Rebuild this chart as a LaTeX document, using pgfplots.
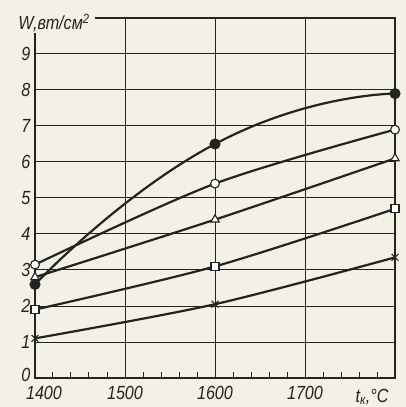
\documentclass[border=0pt]{standalone}
\usepackage{fontspec}
\setmainfont{Liberation Sans}
\newfontfamily\lbl[FakeStretch=0.85]{Liberation Sans}
\usepackage{pgfplots}
\pgfplotsset{compat=1.18}
\definecolor{bg}{RGB}{243,241,229}
\definecolor{ink}{RGB}{35,35,33}
\begin{document}
\begin{tikzpicture}
\fill[bg] (-35pt,-29pt) rectangle (371pt,378pt);
\useasboundingbox (-35pt,-29pt) rectangle (371pt,378pt);
\begin{axis}[name=ax, at={(0,0)}, anchor=south west, scale only axis,
  width=360pt, height=360pt,
  xmin=1400, xmax=1800, ymin=0, ymax=10,
  xtick={1400,1500,1600,1700}, ytick={0,1,...,9},
  xticklabels={\hspace*{18pt}1400,1500,1600,1700},
  yticklabels={\raisebox{6pt}{0},1,2,3,4,5,6,7,8,9},
  minor xtick={1420,1440,1460,1480,1520,1540,1560,1580,1620,1640,1660,1680,1720,1740,1760,1780},
  grid=major, major grid style={ink, line width=1pt},
  axis line style={ink, line width=1.5pt},
  tick align=inside, xtick pos=bottom, ytick pos=left,
  major tick length=0pt, minor tick length=6pt,
  minor tick style={ink, line width=1pt},
  ticklabel style={font=\lbl\fontsize{19}{21}\selectfont\itshape, text=ink},
  /pgf/number format/assume math mode=true,
  /pgf/number format/set thousands separator={},
  xticklabel style={yshift=-5pt},
  yticklabel style={xshift=-1pt},
  clip=false,
]
\addplot[ink, line width=2.2pt, smooth, tension=0.95, mark=*, mark size=4.4pt, mark options={fill=ink}]
  coordinates {(1400,2.6) (1600,6.5) (1800,7.9)};
\addplot[ink, line width=2.2pt, smooth, mark=*, mark size=4.4pt, mark options={fill=white, line width=1.1pt}]
  coordinates {(1400,3.15) (1600,5.4) (1800,6.9)};
\addplot[ink, line width=2.2pt, smooth, mark=triangle*, mark size=4.8pt, mark options={fill=white, line width=1.1pt}]
  coordinates {(1400,2.8) (1600,4.4) (1800,6.1)};
\addplot[ink, line width=2.2pt, smooth, mark=square*, mark size=4pt, mark options={fill=white, line width=1.1pt}]
  coordinates {(1400,1.9) (1600,3.1) (1800,4.7)};
\addplot[ink, line width=2.2pt, smooth, mark=x, mark size=4.8pt, mark options={line width=1.1pt}]
  coordinates {(1400,1.1) (1600,2.05) (1800,3.35)};
\end{axis}
\fill[bg] ([shift={(-23pt,18pt)}]ax.north west) rectangle ([shift={(60pt,-15pt)}]ax.north west);
\node[font=\lbl\fontsize{19}{21}\selectfont\itshape, text=ink, inner sep=0pt] at ([shift={(19pt,-5pt)}]ax.north west) {W,вт/см\textsuperscript{2}};
\node[font=\lbl\fontsize{19}{21}\selectfont\itshape, text=ink, inner sep=0pt] at ([shift={(337pt,-19pt)}]ax.south west) {t\textsubscript{к},°C};
\end{tikzpicture}
\end{document}
